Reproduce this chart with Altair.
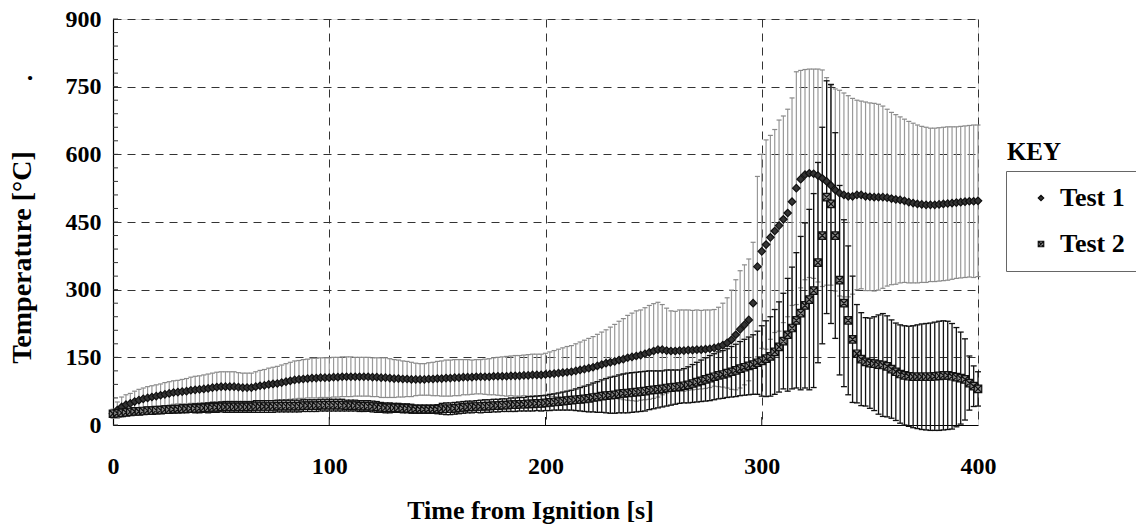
import altair as alt
import pandas as pd

# ---------------- data ----------------
t = list(range(0, 401, 2))

# Test 1 mean temperature
m1 = [25, 33, 40, 45, 48, 52, 55, 58, 60, 62,
      64, 66, 68, 70, 72, 73, 74, 75, 77, 78,
      79, 80, 81, 83, 84, 85, 85, 85, 85, 84,
      83, 83, 83, 85, 87, 88, 90, 91, 92, 94,
      96, 98, 100, 101, 102, 103, 104, 104, 105, 105,
      105, 106, 106, 107, 107, 107, 107, 107, 107, 107,
      106, 106, 105, 105, 104, 103, 103, 102, 102, 101,
      101, 101, 101, 102, 102, 103, 103, 104, 104, 105,
      105, 106, 106, 106, 107, 107, 107, 107, 108, 108,
      108, 108, 109, 109, 109, 110, 110, 111, 111, 111,
      112, 113, 114, 115, 116, 117, 118, 120, 122, 124,
      126, 128, 131, 134, 137, 139, 141, 144, 146, 149,
      151, 153, 155, 158, 161, 164, 167, 167, 165, 164,
      164, 165, 165, 166, 166, 167, 167, 168, 169, 171,
      173, 177, 182, 189, 200, 212, 222, 233, 270, 351,
      385, 400, 416, 430, 442, 456, 470, 495, 525, 545,
      555, 558, 557, 553, 547, 540, 531, 521, 514, 510,
      507, 507, 510, 510, 507, 506, 505, 505, 505, 504,
      502, 500, 499, 497, 494, 492, 490, 489, 488, 488,
      488, 489, 490, 491, 492, 493, 494, 495, 496, 496,
      497]

# Test 1 error (half length of error bar)
s1 = [10, 18, 22, 22, 22, 23, 24, 24, 25, 25,
      25, 25, 26, 26, 26, 26, 27, 28, 29, 30,
      30, 31, 32, 32, 33, 33, 33, 33, 33, 32,
      32, 32, 32, 33, 34, 35, 36, 37, 38, 39,
      40, 41, 42, 42, 43, 43, 44, 44, 44, 44,
      44, 44, 44, 44, 44, 44, 43, 43, 43, 43,
      43, 43, 44, 44, 43, 42, 41, 40, 39, 38,
      36, 35, 35, 36, 37, 38, 39, 40, 40, 40,
      40, 39, 39, 38, 38, 38, 39, 40, 41, 42,
      43, 44, 44, 45, 45, 45, 46, 46, 46, 46,
      47, 49, 51, 53, 55, 57, 58, 60, 62, 64,
      66, 68, 70, 72, 74, 78, 82, 86, 90, 94,
      97, 100, 100, 102, 104, 105, 105, 100, 94, 89,
      88, 90, 90, 89, 88, 88, 87, 87, 86, 85,
      88, 93, 100, 110, 122, 130, 133, 135, 135, 200,
      215, 232, 226, 225, 234, 229, 230, 230, 258, 241,
      233, 231, 232, 236, 240, 230, 221, 224, 228, 226,
      223, 217, 210, 208, 209, 208, 208, 206, 202, 196,
      191, 188, 184, 181, 179, 177, 175, 173, 172, 170,
      170, 170, 170, 170, 169, 168, 168, 168, 168, 169,
      168]

# Test 2 mean temperature
m2 = [25, 26, 27, 28, 29, 30, 30, 31, 32, 32,
      33, 33, 34, 34, 35, 35, 36, 36, 37, 37,
      37, 38, 38, 39, 39, 40, 40, 40, 40, 40,
      40, 40, 40, 41, 41, 41, 41, 41, 42, 42,
      42, 42, 42, 42, 43, 43, 43, 43, 44, 44,
      44, 44, 44, 44, 43, 43, 43, 42, 42, 42,
      41, 40, 39, 38, 38, 38, 38, 37, 37, 36,
      35, 35, 35, 35, 35, 35, 36, 36, 36, 37,
      38, 39, 40, 40, 41, 41, 42, 42, 43, 43,
      44, 44, 45, 45, 46, 46, 47, 47, 48, 48,
      49, 50, 51, 52, 53, 54, 55, 56, 57, 58,
      59, 61, 62, 64, 65, 66, 67, 69, 70, 71,
      72, 73, 74, 75, 77, 78, 79, 80, 82, 83,
      84, 85, 87, 89, 92, 95, 98, 101, 104, 107,
      110, 112, 115, 118, 121, 125, 128, 131, 134, 138,
      142, 147, 152, 162, 173, 186, 200, 215, 232, 248,
      265, 278, 298, 360, 420, 505, 490, 420, 321, 270,
      232, 190, 158, 146, 140, 137, 136, 134, 133, 130,
      124, 118, 113, 110, 108, 107, 107, 107, 107, 107,
      108, 109, 110, 110, 108, 106, 104, 101, 93, 86,
      80]

# Test 2 error (half length of error bar)
s2 = [3, 4, 4, 5, 5, 6, 6, 6, 7, 7,
      7, 7, 8, 8, 8, 8, 9, 9, 9, 10,
      10, 10, 11, 11, 11, 11, 12, 12, 12, 12,
      12, 12, 12, 13, 13, 13, 13, 13, 13, 13,
      13, 13, 13, 13, 13, 13, 13, 13, 13, 13,
      13, 13, 13, 13, 12, 12, 12, 12, 12, 12,
      12, 12, 11, 11, 11, 10, 10, 10, 10, 10,
      9, 9, 9, 9, 9, 10, 12, 13, 13, 13,
      13, 13, 13, 13, 13, 14, 14, 14, 14, 14,
      14, 14, 15, 15, 15, 15, 16, 16, 16, 17,
      17, 18, 18, 19, 20, 21, 22, 24, 26, 28,
      30, 32, 34, 36, 38, 40, 41, 42, 43, 44,
      44, 44, 44, 44, 43, 42, 41, 40, 40, 39,
      38, 37, 38, 40, 42, 44, 46, 48, 50, 51,
      52, 53, 54, 56, 58, 60, 62, 64, 66, 70,
      78, 84, 88, 94, 100, 106, 125, 135, 150, 170,
      183, 200, 215, 222, 240, 258, 265, 228, 210, 185,
      165, 140, 109, 103, 98, 100, 104, 110, 114, 112,
      109, 108, 109, 110, 111, 113, 115, 117, 118, 119,
      120, 121, 121, 120, 117, 110, 102, 90, 60, 45,
      38]

series_names = ["Test 1", "Test 2"]
x_ticks = [0, 100, 200, 300, 400]
y_ticks = [0, 150, 300, 450, 600, 750, 900]
y_minor = list(range(0, 901, 30))
x_inner = [100, 200, 300]

# ---------------- tables ----------------
def table(m, s, name):
    d = pd.DataFrame({"t": t, "m": m, "s": s})
    d["lo"] = d["m"] - d["s"]
    d["hi"] = d["m"] + d["s"]
    d["series"] = name
    return d

d1 = table(m1, s1, series_names[0])
d2 = table(m2, s2, series_names[1])
pts = pd.concat([d1, d2], ignore_index=True)

FONT = "Liberation Serif"
xs = alt.Scale(domain=[0, 400], nice=False, zero=False)
ys = alt.Scale(domain=[0, 900], nice=False, zero=False)

x_axis = alt.Axis(values=x_ticks, title="Time from Ignition [s]", grid=True,
                  gridDash=[8, 6], gridColor="#333", gridWidth=1, gridOpacity=1,
                  ticks=False, tickSize=0, domainColor="black", domainWidth=1.2,
                  labelFont=FONT, labelFontSize=24, labelFontWeight="bold",
                  labelColor="black", labelPadding=29, labelFlush=False,
                  titleFont=FONT, titleFontSize=26, titleFontWeight="bold",
                  titleColor="black", titlePadding=19, titleX=417)
y_axis = alt.Axis(values=y_ticks, title="Temperature [°C]", grid=True,
                  gridDash=[8, 6], gridColor="#333", gridWidth=1, gridOpacity=1,
                  ticks=False, tickSize=0, domainColor="black", domainWidth=1.2,
                  labelFont=FONT, labelFontSize=24, labelFontWeight="bold",
                  labelColor="black", labelPadding=12, labelFlush=False,
                  titleFont=FONT, titleFontSize=28, titleFontWeight="bold",
                  titleColor="black", titlePadding=29, titleY=238)


def X(f):
    return alt.X(f"{f}:Q", scale=xs, axis=x_axis)


def Y(f):
    return alt.Y(f"{f}:Q", scale=ys, axis=y_axis)


# error bars
bars1 = alt.Chart(d1).mark_rule(color="#999999", strokeWidth=1.2).encode(
    x=X("t"), y=Y("lo"), y2="hi")
caps1a = alt.Chart(d1).mark_tick(orient="horizontal", size=5, thickness=1.2,
                                 color="#8a8a8a", opacity=1).encode(x=X("t"), y=Y("hi"))
caps1b = alt.Chart(d1).mark_tick(orient="horizontal", size=5, thickness=1.2,
                                 color="#8a8a8a", opacity=1).encode(x=X("t"), y=Y("lo"))

bars2 = alt.Chart(d2).mark_rule(color="#111", strokeWidth=1.3).encode(
    x=X("t"), y=Y("lo"), y2="hi")
caps2a = alt.Chart(d2).mark_tick(orient="horizontal", size=6, thickness=1.3,
                                 color="#111", opacity=1).encode(x=X("t"), y=Y("hi"))
caps2b = alt.Chart(d2).mark_tick(orient="horizontal", size=6, thickness=1.3,
                                 color="#111", opacity=1).encode(x=X("t"), y=Y("lo"))

xpath = "M-1,-1L1,1M-1,1L1,-1M-1,-1L-1,1L1,1L1,-1Z"
leg = alt.Legend(title=None, orient="none", legendX=893, legendY=152,
                 strokeColor="#666", padding=14, symbolOffset=8,
                 labelFont=FONT, labelFontSize=26, labelFontWeight="bold",
                 labelColor="black", rowPadding=20, labelOffset=6,
                 symbolSize=30, symbolStrokeWidth=1.2,
                 labelExpr="datum.label + '\u00a0\u00a0\u00a0'")

points = alt.Chart(pts).mark_point(filled=True, size=56, strokeWidth=1.2, opacity=1).encode(
    x=X("t"), y=Y("m"),
    shape=alt.Shape("series:N", scale=alt.Scale(domain=series_names, range=["diamond", xpath]), legend=leg),
    fill=alt.Fill("series:N", scale=alt.Scale(domain=series_names, range=["#333333", "#8a8a8a"]), legend=leg),
    stroke=alt.Stroke("series:N", scale=alt.Scale(domain=series_names, range=["#111111", "#111111"]), legend=leg),
)

# inward tick marks
yminor = alt.Chart(pd.DataFrame({"v": y_minor})).mark_rule(color="#333", strokeWidth=1).encode(
    y=Y("v"), x=alt.value(0), x2=alt.value(5))
xinner = alt.Chart(pd.DataFrame({"v": x_inner})).mark_rule(color="#111", strokeWidth=1).encode(
    x=X("v"), y=alt.value(406), y2=alt.value(398))

key_txt = alt.Chart(pd.DataFrame({"txt": ["KEY"]})).mark_text(
    font=FONT, fontSize=25, fontWeight="bold", color="black", align="center", baseline="middle"
).encode(text="txt:N", x=alt.value(921), y=alt.value(133))

dot_txt = alt.Chart(pd.DataFrame({"txt": ["·"]})).mark_text(
    font=FONT, fontSize=26, fontWeight="bold", color="black", align="center", baseline="middle"
).encode(text="txt:N", x=alt.value(-83), y=alt.value(59))

chart = alt.layer(
    bars1, caps1a, caps1b, bars2, caps2a, caps2b, points, yminor, xinner, key_txt, dot_txt
).properties(
    width=865, height=406,
    autosize=alt.AutoSizeParams(type="none"),
    padding={"left": 113, "top": 19, "right": 158, "bottom": 102},
).configure_view(stroke=None).configure(font=FONT, background="white")

chart.save("out.html", embed_options={"renderer": "svg", "actions": False})
